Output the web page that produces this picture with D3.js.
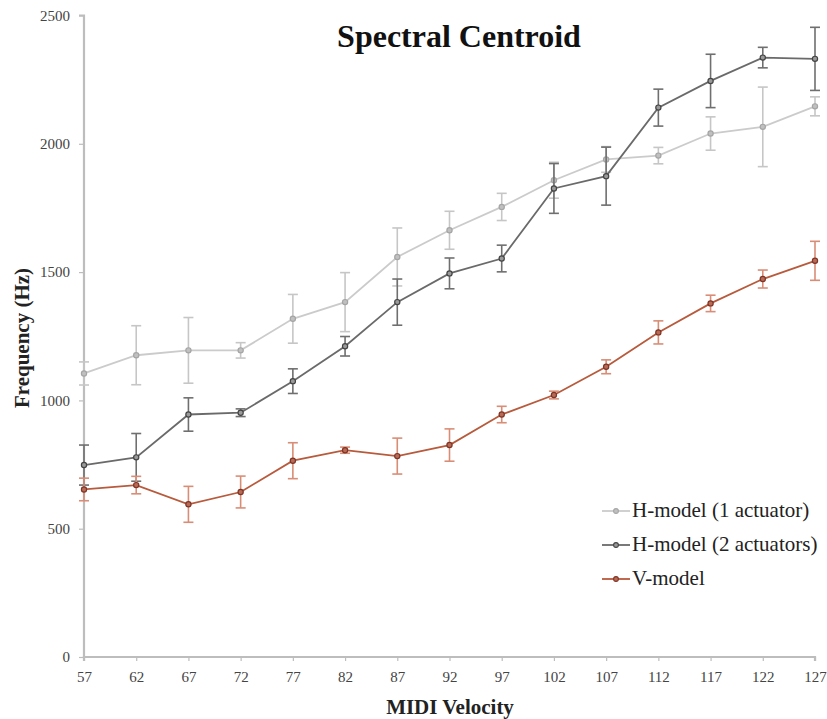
<!DOCTYPE html>
<html>
<head>
<meta charset="utf-8">
<script src="https://cdn.jsdelivr.net/npm/d3@7"></script>
<style>
  body { margin: 0; background: #fff; }
  svg { display: block; }
  text { font-family: "Liberation Serif", "DejaVu Serif", serif; }
</style>
</head>
<body>
<svg id="chart" width="827" height="719"></svg>
<script>
const velocities = [57, 62, 67, 72, 77, 82, 87, 92, 97, 102, 107, 112, 117, 122, 127];
const h1Values = [1105, 1176, 1195, 1195, 1318, 1383, 1559, 1663, 1754, 1858, 1939, 1954, 2040, 2066, 2146];
const h1Errors = [45, 115, 128, 30, 95, 115, 113, 74, 53, 70, 50, 32, 65, 155, 37];
const h2Values = [748, 778, 945, 952, 1075, 1211, 1383, 1495, 1553, 1826, 1874, 2141, 2245, 2336, 2331];
const h2Errors = [78, 93, 65, 15, 48, 38, 90, 60, 52, 97, 113, 72, 104, 40, 123];
const vValues = [653, 670, 595, 643, 765, 806, 783, 826, 945, 1021, 1131, 1265, 1378, 1473, 1544];
const vErrors = [44, 34, 70, 62, 70, 12, 70, 63, 32, 15, 27, 45, 32, 35, 76];
const yTicks = [0, 500, 1000, 1500, 2000, 2500];
const seriesNames = ["H-model (1 actuator)", "H-model (2 actuators)", "V-model"];

const series = [
  { name: seriesNames[0], values: h1Values, errors: h1Errors, line: "#cbcbcb", err: "#c6c6c6", marker: "#a5a5a5", fill: "#c0c0c0" },
  { name: seriesNames[1], values: h2Values, errors: h2Errors, line: "#6a6a6a", err: "#6f6f6f", marker: "#444", fill: "#9a9a9a" },
  { name: seriesNames[2], values: vValues, errors: vErrors, line: "#b85a3c", err: "#d98d76", marker: "#7e3526", fill: "#b86a55" }
];

const svg = d3.select("#chart");
const x = d3.scaleLinear().domain([57, 127]).range([84, 815]);
const y = d3.scaleLinear().domain([0, 2500]).range([657, 15.5]);

// Axes
const axisColor = "#bdbdbd";
const yAxis = svg.append("g").attr("transform", `translate(${x(57)},0)`)
  .call(d3.axisLeft(y).tickValues(yTicks).tickSize(5).tickPadding(9).tickFormat(d3.format("d")));
const xAxis = svg.append("g").attr("transform", `translate(0,${y(0)})`)
  .call(d3.axisBottom(x).tickValues(velocities).tickSize(4).tickPadding(10).tickFormat(d3.format("d")));
[yAxis, xAxis].forEach(g => {
  g.select(".domain").attr("stroke", axisColor).attr("stroke-width", 2.2);
  g.selectAll(".tick line").attr("stroke", axisColor).attr("stroke-width", 1.2);
  g.selectAll(".tick text").attr("fill", "#444").attr("font-size", 15)
    .attr("font-family", "'Liberation Serif', serif");
});
yAxis.select(".domain").attr("d", `M-5,${y(2500)}H0V${y(0)}`);
xAxis.select(".domain").attr("d", `M${x(57)},4V0H${x(127)}V4`);

// Series
const line = d3.line().x((d, i) => x(velocities[i])).y(d => y(d));
series.forEach(s => {
  const g = svg.append("g");
  g.append("path").datum(s.values).attr("d", line)
    .attr("fill", "none").attr("stroke", s.line).attr("stroke-width", 1.8);
  s.values.forEach((v, i) => {
    const cx = x(velocities[i]);
    const lo = y(v - s.errors[i]), hi = y(v + s.errors[i]);
    g.append("line").attr("x1", cx).attr("x2", cx).attr("y1", lo).attr("y2", hi)
      .attr("stroke", s.err).attr("stroke-width", 1.6);
    [lo, hi].forEach(yy => g.append("line").attr("x1", cx - 5).attr("x2", cx + 5)
      .attr("y1", yy).attr("y2", yy).attr("stroke", s.err).attr("stroke-width", 1.6));
  });
  g.selectAll("circle").data(s.values).join("circle")
    .attr("cx", (d, i) => x(velocities[i])).attr("cy", d => y(d)).attr("r", 2.6)
    .attr("fill", s.fill).attr("stroke", s.marker).attr("stroke-width", 1.2);
});

// Title
svg.append("text").attr("x", 459).attr("y", 47).attr("text-anchor", "middle")
  .attr("font-size", 32).attr("font-weight", "bold").attr("fill", "#111").text("Spectral Centroid");

// Axis titles
svg.append("text").attr("transform", "translate(29,338) rotate(-90)").attr("text-anchor", "middle")
  .attr("font-size", 21).attr("font-weight", "bold").attr("fill", "#222").text("Frequency (Hz)");
svg.append("text").attr("x", 450).attr("y", 714).attr("text-anchor", "middle")
  .attr("font-size", 21).attr("font-weight", "bold").attr("fill", "#222").text("MIDI Velocity");

// Legend
const legendRows = [511, 545, 579];
series.forEach((s, i) => {
  const ly = legendRows[i];
  svg.append("line").attr("x1", 602).attr("x2", 630).attr("y1", ly).attr("y2", ly)
    .attr("stroke", s.line).attr("stroke-width", 1.8);
  svg.append("circle").attr("cx", 616).attr("cy", ly).attr("r", 2.4)
    .attr("fill", s.fill).attr("stroke", s.marker).attr("stroke-width", 1.1);
  svg.append("text").attr("x", 632).attr("y", ly + 6).attr("font-size", 21)
    .attr("fill", "#222").text(s.name);
});
</script>
</body>
</html>
